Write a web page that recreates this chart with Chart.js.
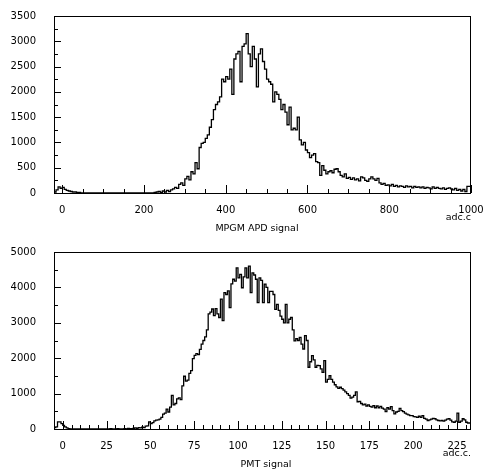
<!DOCTYPE html>
<html>
<head>
<meta charset="utf-8">
<script src="https://cdn.jsdelivr.net/npm/chart.js@4.4.1/dist/chart.umd.min.js"></script>
<style>
  body { margin: 0; background: #fff; }
  canvas { display: block; }
</style>
</head>
<body>
<canvas id="apdChart" width="491" height="236"></canvas>
<canvas id="pmtChart" width="491" height="236"></canvas>
<script>
// --- MPGM APD histogram: bins of 5 adc counts starting at -20
const apdLow = -20;
const apdBin = 5;
const apdCounts = [
  0, 20, 60, 120, 90, 110, 70, 50, 40, 30, 20, 20, 10, 10, 0, 0,
  0, 0, 0, 0, 0, 0, 0, 0, 0, 0, 0, 0, 0, 0, 0, 0,
  0, 0, 0, 0, 0, 0, 0, 0, 0, 0, 0, 0, 0, 0, 0, 0,
  0, 0, 10, 20,
  30, 10, 40, 20,
  50, 30, 60, 80,
  110, 90, 170, 200,
  150, 280, 330, 260,
  420, 380, 600, 480,
  900, 980, 1000, 1080,
  1150, 1300, 1450, 1650,
  1750, 1800, 1900, 2250,
  2200, 2300, 2250, 2450,
  1950, 2650, 2750, 2800,
  2200, 2900, 2950, 3150,
  2750, 2500, 2900, 2650,
  2100, 2750, 2850, 2600,
  2450, 2250, 2200, 2150,
  1800, 2000, 1950, 1850,
  1650, 1750, 1600, 1350,
  1700, 1250, 1280, 1250,
  1500, 1050, 950, 1000,
  850, 800, 700, 750,
  780, 620, 600, 350,
  540, 450, 380, 420,
  440, 400, 470, 480,
  420, 350, 320, 380,
  290, 310, 270, 300,
  260, 280, 240, 320,
  300, 250, 230, 280,
  320, 280, 250, 290,
  200, 170, 190, 150,
  160, 140, 170, 130,
  150, 120, 140, 130,
  110, 140, 120, 130,
  100, 130, 110, 120,
  100, 120, 90, 110,
  100, 80, 120, 90,
  110, 90, 80, 100,
  70, 90, 100, 80,
  60, 90, 50, 70,
  40, 70, 30, 130
];
const apdXTicks = [0, 200, 400, 600, 800, 1000];
const apdYTicks = [0, 500, 1000, 1500, 2000, 2500, 3000, 3500];

// --- PMT histogram: bins of 1 adc count starting at -5
const pmtLow = -5;
const pmtBin = 1;
const pmtCounts = [
  20, 40, 60, 200, 200,
  150, 100, 60, 30, 10, 0, 0, 0, 0, 0,
  0, 0, 0, 0, 0, 0, 0, 0, 0, 0,
  0, 0, 0, 0, 0, 0, 0, 0, 10, 0,
  0, 0, 10, 0, 0, 0, 10, 0, 20, 10,
  10, 20, 30, 20, 40, 30, 50, 40, 80, 90,
  200, 150, 180, 230, 250, 260, 280, 330, 420, 450,
  560, 480, 620, 950, 680, 720, 850, 880, 830, 1220,
  1490, 1350, 1380, 1570, 1650, 1990, 2080, 2130, 2100, 2250,
  2400, 2500, 2600, 2800, 3250, 3300, 3390, 3200, 3400, 3250,
  3150, 3670, 3060, 3850, 3800, 3900, 3430, 4100, 4230, 4180,
  4550, 4270, 4370, 3990, 4300, 4550, 4270, 4600, 3850, 4410,
  4350, 4230, 3570, 4270, 4200, 3570, 4090, 4000, 3570, 3890,
  3890, 3800, 3380, 3520, 3350, 3190, 3100, 3000, 3520, 3000,
  3100, 3150, 2800, 2490, 2550, 2500, 2590, 2400, 2260, 2640,
  2500, 1745, 1900, 2070, 1950, 1745, 1800, 1790, 1700, 1600,
  1930, 1325, 1400, 1510, 1400, 1325, 1250, 1190, 1150, 1180,
  1140, 1100, 1050, 1000, 950, 870, 900, 950, 1050, 770,
  780, 720, 680, 700, 650, 680, 640, 620, 660, 600,
  650, 600, 640, 590, 560, 490, 600, 560, 630, 520,
  430, 480, 500, 580, 520, 490, 450, 420, 400, 380,
  380, 350, 340, 330, 360, 330, 380, 300, 280, 240,
  260, 280, 300, 290, 260, 240, 230, 240, 220, 250,
  280, 290, 250, 200, 190, 220, 450, 190, 220, 290,
  260, 190, 170
];
const pmtXTicks = [0, 25, 50, 75, 100, 125, 150, 175, 200, 225];
const pmtYTicks = [0, 1000, 2000, 3000, 4000, 5000];

Chart.defaults.font.family = '"DejaVu Sans", sans-serif';
Chart.defaults.font.size = 10;
Chart.defaults.color = '#000';

// histogram edges -> step points (last bin closed at right edge)
function histPoints(low, bin, counts) {
  const pts = counts.map((c, i) => ({ x: low + i * bin, y: c }));
  pts.push({ x: low + counts.length * bin, y: counts[counts.length - 1] });
  return pts;
}

// frame box, inward ticks on bottom/left, axis captions
const frameTicks = {
  id: 'frameTicks',
  afterDraw(chart, args, o) {
    const { ctx, chartArea: a, scales: { x, y } } = chart;
    ctx.save();
    ctx.strokeStyle = '#000';
    ctx.lineWidth = 1;
    ctx.beginPath();
    for (let v = Math.ceil(x.min / o.xMinor) * o.xMinor; v <= x.max; v += o.xMinor) {
      const px = Math.round(x.getPixelForValue(v)) + 0.5;
      const len = v % o.xMajor === 0 ? 8 : 4;
      ctx.moveTo(px, a.bottom);
      ctx.lineTo(px, a.bottom - len);
    }
    for (let v = 0; v <= y.max; v += o.yMinor) {
      const py = Math.round(y.getPixelForValue(v)) + 0.5;
      const len = v % o.yMajor === 0 ? 7 : 4;
      ctx.moveTo(a.left, py);
      ctx.lineTo(a.left + len, py);
    }
    ctx.stroke();
    ctx.strokeRect(a.left + 0.5, a.top + 0.5, a.right - a.left - 1, a.bottom - a.top);

    ctx.fillStyle = '#000';
    ctx.font = '9.5px "DejaVu Sans", sans-serif';
    ctx.textBaseline = 'middle';
    ctx.textAlign = 'right';
    ctx.fillText(o.unit, a.right, 218);
    ctx.textAlign = 'center';
    ctx.fillText(o.caption, o.captionX, 229);
    ctx.restore();
  }
};

function makeHist(id, points, xMin, xMax, xTicks, yTicks, padTop, marks) {
  return new Chart(document.getElementById(id), {
    type: 'line',
    data: {
      datasets: [{
        data: points,
        stepped: 'after',
        borderColor: '#000',
        borderWidth: 1.3,
        pointRadius: 0,
        fill: false
      }]
    },
    options: {
      responsive: false,
      animation: false,
      layout: { padding: { left: 0, right: 20, top: padTop, bottom: 0 } },
      plugins: { legend: { display: false }, tooltip: { enabled: false }, frameTicks: marks },
      scales: {
        x: {
          type: 'linear',
          min: xMin,
          max: xMax,
          grid: { display: false },
          border: { display: false },
          ticks: { padding: 3, maxRotation: 0, callback: v => String(v) },
          afterBuildTicks: s => { s.ticks = xTicks.map(v => ({ value: v })); },
          afterFit: s => { s.height = 43; }
        },
        y: {
          min: 0,
          max: yTicks[yTicks.length - 1],
          grid: { display: false },
          border: { display: false },
          ticks: { padding: 10, callback: v => String(v) },
          afterBuildTicks: s => { s.ticks = yTicks.map(v => ({ value: v })); },
          afterFit: s => { s.width = 54; }
        }
      }
    },
    plugins: [frameTicks]
  });
}

makeHist('apdChart', histPoints(apdLow, apdBin, apdCounts), -20, 1000, apdXTicks, apdYTicks, 12,
  { xMinor: 50, xMajor: 200, yMinor: 250, yMajor: 500, unit: 'adc.c', caption: 'MPGM APD signal', captionX: 257 });
makeHist('pmtChart', histPoints(pmtLow, pmtBin, pmtCounts), -5, 233, pmtXTicks, pmtYTicks, 15,
  { xMinor: 5, xMajor: 25, yMinor: 500, yMajor: 1000, unit: 'adc.c.', caption: 'PMT signal', captionX: 266 });
</script>
</body>
</html>
